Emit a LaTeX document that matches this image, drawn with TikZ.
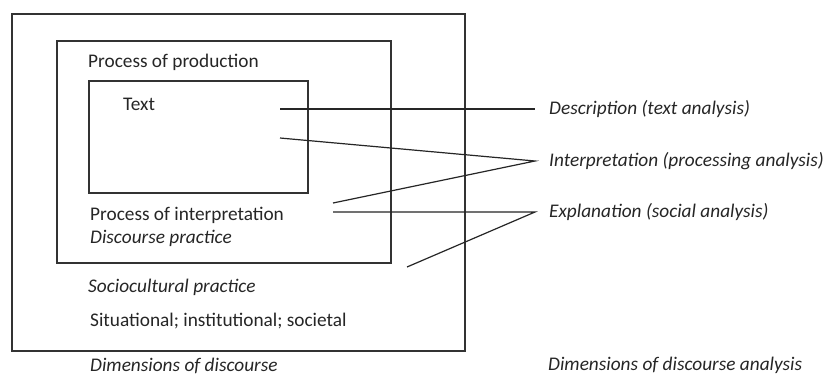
\documentclass[tikz,border=0pt]{standalone}
\usepackage{fontspec}
\setmainfont{Carlito}
\begin{document}
\begin{tikzpicture}[x=1pt,y=-1pt,
  boxline/.style={draw=black!80, line width=1.8pt},
  conn/.style={draw=black!85, line width=1.2pt},
  lbl/.style={anchor=west, inner sep=0pt, font=\fontsize{19.3}{21}\selectfont, text=black!85},
  ilbl/.style={lbl, font=\fontsize{19.3}{21}\selectfont\itshape}]
\useasboundingbox (0,0) rectangle (828,376);
\fill[white] (0,0) rectangle (828,376);
% boxes
\draw[boxline] (12,14) rectangle (465,351);
\draw[boxline] (57,41) rectangle (391,263);
\draw[boxline] (89,81) rectangle (308,193);
% texts
\node[lbl] (prod) at (88,62) {Process of production};
\node[lbl] (text) at (123,104) {Text};
\node[lbl] (interp) at (90,215) {Process of interpretation};
\node[ilbl] (dp) at (90,238) {Discourse practice};
\node[ilbl] (sp) at (88,287) {Sociocultural practice};
\node[lbl] (sit) at (90,321) {Situational; institutional; societal};
\node[ilbl] (dd) at (90,366) {Dimensions of discourse};
\node[ilbl] (desc) at (549,109) {Description (text analysis)};
\node[ilbl] (inta) at (549,161) {Interpretation (processing analysis)};
\node[ilbl] (expl) at (549,212) {Explanation (social analysis)};
\node[ilbl] (dda) at (548,365) {Dimensions of discourse analysis};
% connector end points
\coordinate (d0) at (280,109);
\coordinate (d1) at (535,109);
\coordinate (i0) at (280,138);
\coordinate (i1) at (333,203);
\coordinate (ia) at (535,161);
\coordinate (e0) at (333,212);
\coordinate (e1) at (407,267);
\coordinate (ea) at (535,212);
\draw[conn] (d0) -- (d1);
\draw[conn] (i0) -- (ia) -- (i1);
\draw[conn] (e0) -- (ea) -- (e1);
\end{tikzpicture}
\end{document}
